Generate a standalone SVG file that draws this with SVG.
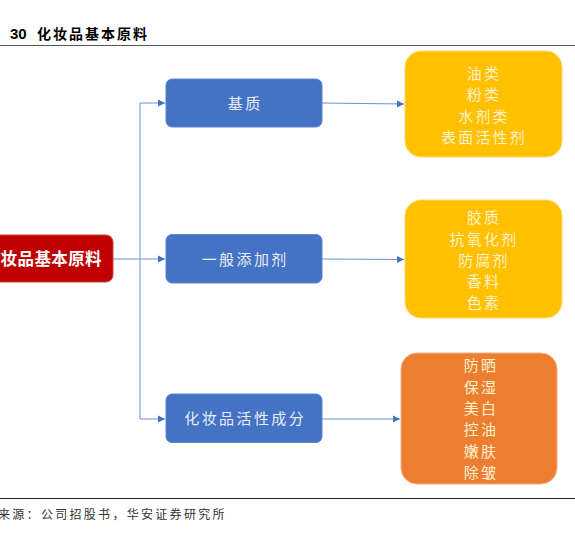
<svg xmlns="http://www.w3.org/2000/svg" width="575" height="537" viewBox="0 0 575 537">
<defs>
<style>
.t{font-family:"Noto Sans CJK SC","Liberation Sans",sans-serif;}
.blue{fill:#4472C4;stroke:#5B86D0;stroke-width:1}
.btxt{fill:#E8EEF8;font-size:15px;text-anchor:middle;letter-spacing:2.4px}
.ytxt{fill:#FFF2CC;font-size:15px;text-anchor:middle;letter-spacing:2.2px}
.conn{fill:none;stroke:#6A8FD6;stroke-width:1}
</style>
<marker id="ah" markerWidth="8" markerHeight="8" refX="7" refY="4" orient="auto" markerUnits="userSpaceOnUse">
<path d="M0,0.5 L7,4 L0,7.5 Z" fill="#4472C4"/>
</marker>
</defs>
<rect width="575" height="537" fill="#ffffff"/>
<g id="title">
<text class="t" x="-4" y="38" font-size="14" font-weight="bold" fill="#000">.</text>
<text x="10" y="39" font-family="Liberation Sans, Arial, sans-serif" font-size="15" font-weight="bold" fill="#000">30</text>
<text class="t" x="37" y="39" font-size="14" font-weight="bold" fill="#000" letter-spacing="2">化妆品基本原料</text>
<line x1="0" y1="45.5" x2="575" y2="45.5" stroke="#555" stroke-width="1.2"/>
</g>
<g id="connectors">
<path class="conn" d="M113,259 H140"/>
<path class="conn" d="M140,103 V419"/>
<path class="conn" d="M140,103 H165" marker-end="url(#ah)"/>
<path class="conn" d="M140,259 H165" marker-end="url(#ah)"/>
<path class="conn" d="M140,419 H165" marker-end="url(#ah)"/>
<path class="conn" d="M322,103 L404,104" marker-end="url(#ah)"/>
<path class="conn" d="M322,259 L404,259.5" marker-end="url(#ah)"/>
<path class="conn" d="M322,419 L400,419" marker-end="url(#ah)"/>
</g>
<g id="root">
<rect x="-43" y="235" width="156" height="47" rx="7" fill="#C00000" stroke="#D04040" stroke-width="1"/>
<text class="t" x="102" y="265" font-size="16.5" font-weight="bold" fill="#ffffff" text-anchor="end" letter-spacing="0.4">化妆品基本原料</text>
</g>
<g id="jizhi">
<rect class="blue" x="166" y="79" width="156" height="48" rx="6"/>
<text class="t btxt" x="245.2" y="108.5">基质</text>
</g>
<g id="tianjiaji">
<rect class="blue" x="166" y="234.5" width="156" height="48.5" rx="6"/>
<text class="t btxt" x="245.2" y="264.5">一般添加剂</text>
</g>
<g id="huoxing">
<rect class="blue" x="166" y="394" width="156" height="48.5" rx="6"/>
<text class="t btxt" x="245.2" y="424">化妆品活性成分</text>
</g>
<g id="jizhi-items">
<rect x="405" y="51" width="157" height="106" rx="16" fill="#FFC000" stroke="#FFD966" stroke-width="1"/>
<text class="t ytxt" x="484" y="78.5">油类</text>
<text class="t ytxt" x="484" y="100">粉类</text>
<text class="t ytxt" x="484" y="121.5">水剂类</text>
<text class="t ytxt" x="484" y="143">表面活性剂</text>
</g>
<g id="tianjiaji-items">
<rect x="405" y="200" width="157" height="118" rx="16" fill="#FFC000" stroke="#FFD966" stroke-width="1"/>
<text class="t ytxt" x="484" y="223">胶质</text>
<text class="t ytxt" x="484" y="244.5">抗氧化剂</text>
<text class="t ytxt" x="484" y="265.5">防腐剂</text>
<text class="t ytxt" x="484" y="287">香料</text>
<text class="t ytxt" x="484" y="308">色素</text>
</g>
<g id="huoxing-items">
<rect x="401" y="353" width="156" height="131" rx="16" fill="#ED7D31" stroke="#F4B183" stroke-width="1"/>
<text class="t ytxt" x="481" y="371">防晒</text>
<text class="t ytxt" x="481" y="392.5">保湿</text>
<text class="t ytxt" x="481" y="414">美白</text>
<text class="t ytxt" x="481" y="435">控油</text>
<text class="t ytxt" x="481" y="456.5">嫩肤</text>
<text class="t ytxt" x="481" y="478">除皱</text>
</g>
<g id="source">
<line x1="0" y1="498.5" x2="575" y2="498.5" stroke="#222" stroke-width="1"/>
<text class="t" x="-2" y="519" font-size="12" fill="#333" letter-spacing="2.3">来源：公司招股书，华安证券研究所</text>
</g>
</svg>
